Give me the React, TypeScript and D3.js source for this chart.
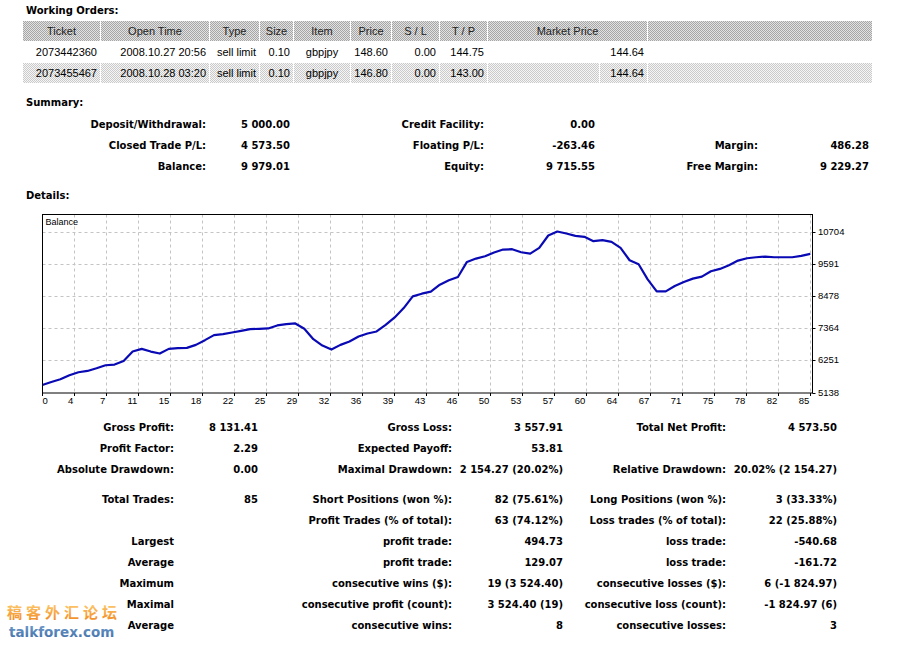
import React from "react";
import * as d3 from "d3";

// ---------- data ----------
const orderHeaders = ["Ticket", "Open Time", "Type", "Size", "Item", "Price", "S / L", "T / P", "Market Price", ""];
const orderTickets = ["2073442360", "2073455467"];
const orderOpenTimes = ["2008.10.27 20:56", "2008.10.28 03:20"];
const orderTypes = ["sell limit", "sell limit"];
const orderSizes = ["0.10", "0.10"];
const orderItems = ["gbpjpy", "gbpjpy"];
const orderPrices = ["148.60", "146.80"];
const orderSL = ["0.00", "0.00"];
const orderTP = ["144.75", "143.00"];
const orderMarket = ["144.64", "144.64"];

const summaryLabels = [
  ["Deposit/Withdrawal:", "Credit Facility:", ""],
  ["Closed Trade P/L:", "Floating P/L:", "Margin:"],
  ["Balance:", "Equity:", "Free Margin:"],
];
const summaryValues = [
  ["5 000.00", "0.00", ""],
  ["4 573.50", "-263.46", "486.28"],
  ["9 979.01", "9 715.55", "9 229.27"],
];

const balance = [
  5399, 5503, 5596, 5735, 5840, 5886, 5979, 6083, 6106, 6234,
  6558, 6651, 6558, 6489, 6651, 6674, 6686, 6790, 6953, 7127,
  7162, 7219, 7277, 7335, 7347, 7359, 7463, 7509, 7533, 7347,
  6988, 6767, 6628, 6790, 6906, 7080, 7185, 7254, 7486, 7741,
  8066, 8472, 8565, 8634, 8878, 9028, 9144, 9666, 9782, 9863,
  9991, 10095, 10107, 10002, 9956, 10153, 10582, 10721, 10652, 10571,
  10536, 10385, 10420, 10362, 10153, 9724, 9585, 9063, 8646, 8646,
  8831, 8970, 9086, 9156, 9342, 9423, 9550, 9713, 9794, 9829,
  9852, 9829, 9829, 9829, 9875, 9945,
];
const xTickLabels = [0, 4, 7, 11, 15, 18, 22, 25, 29, 32, 36, 39, 43, 46, 50, 53, 57, 60, 64, 67, 71, 75, 78, 82, 85];
const yTickLabels = [5138, 6251, 7364, 8478, 9591, 10704];

const statLabelsA = ["Gross Profit:", "Profit Factor:", "Absolute Drawdown:", "Total Trades:", "", "Largest", "Average", "Maximum", "Maximal", "Average"];
const statValuesB = ["8 131.41", "2.29", "0.00", "85", "", "", "", "", "", ""];
const statLabelsC = ["Gross Loss:", "Expected Payoff:", "Maximal Drawdown:", "Short Positions (won %):", "Profit Trades (% of total):", "profit trade:", "profit trade:", "consecutive wins ($):", "consecutive profit (count):", "consecutive wins:"];
const statValuesD = ["3 557.91", "53.81", "2 154.27 (20.02%)", "82 (75.61%)", "63 (74.12%)", "494.73", "129.07", "19 (3 524.40)", "3 524.40 (19)", "8"];
const statLabelsE = ["Total Net Profit:", "", "Relative Drawdown:", "Long Positions (won %):", "Loss trades (% of total):", "loss trade:", "loss trade:", "consecutive losses ($):", "consecutive loss (count):", "consecutive losses:"];
const statValuesF = ["4 573.50", "", "20.02% (2 154.27)", "3 (33.33%)", "22 (25.88%)", "-540.68", "-161.72", "6 (-1 824.97)", "-1 824.97 (6)", "3"];

// ---------- layout ----------
const W = 898;
const H = 646;
const BOLD = { fontFamily: "'DejaVu Sans', Verdana, sans-serif", fontSize: 10, fontWeight: 700 as const, fill: "#000" };
const NORM = { fontFamily: "'Liberation Sans', Arial, sans-serif", fontSize: 11, fill: "#000" };
const SMALL = { fontFamily: "'Liberation Sans', Arial, sans-serif", fontSize: 9.5, fill: "#000" };

const headerEdges = [23, 101, 210, 260, 294, 351, 392, 440, 488, 648, 873];
const rowEdges = [23, 101, 210, 260, 294, 351, 392, 440, 488, 600, 648, 873];

export default function App() {
  const plotL = 42.5, plotR = 812.5, plotT = 214.5, plotB = 393;
  const x = d3.scaleLinear().domain([0, balance.length - 1]).range([42.3, 810.3]);
  const xg = d3.scaleLinear().domain([0, xTickLabels.length - 1]).range([42.3, 810.3]);
  const y = d3.scaleLinear().domain([yTickLabels[0], yTickLabels[yTickLabels.length - 1]]).range([392.5, 232]);
  const line = d3.line<number>().x((_, i) => x(i)).y((d) => y(d));

  const rows = orderTickets.map((_, i) => [
    orderTickets[i], orderOpenTimes[i], orderTypes[i], orderSizes[i], orderItems[i],
    orderPrices[i], orderSL[i], orderTP[i], "", orderMarket[i], "",
  ]);

  const statBase = [431, 452, 473, 503, 524, 545, 566, 587, 608, 629];

  return (
    <div style={{ position: "absolute", left: 0, top: 0, width: W, height: H, background: "#fff" }}>
      <svg width={W} height={H} style={{ display: "block" }}>
        <defs>
          <pattern id="hdr" width="2" height="2" patternUnits="userSpaceOnUse">
            <rect width="2" height="2" fill="#e2e2e2" />
            <rect x="0" y="0" width="1" height="1" fill="#a6a6a6" />
            <rect x="1" y="1" width="1" height="1" fill="#a6a6a6" />
          </pattern>
          <pattern id="alt" width="2" height="2" patternUnits="userSpaceOnUse">
            <rect width="2" height="2" fill="#f6f6f6" />
            <rect x="0" y="0" width="1" height="1" fill="#cacaca" />
            <rect x="1" y="1" width="1" height="1" fill="#cacaca" />
          </pattern>
          <linearGradient id="wmOrange" x1="0" y1="0" x2="0" y2="1">
            <stop offset="0" stopColor="#ffd47a" />
            <stop offset="1" stopColor="#f0861e" />
          </linearGradient>
          <linearGradient id="wmBlue" x1="0" y1="0" x2="0" y2="1">
            <stop offset="0" stopColor="#6f9ccc" />
            <stop offset="1" stopColor="#3f6ea6" />
          </linearGradient>
        </defs>
        <rect width={W} height={H} fill="#fff" />

        {/* Working orders */}
        <text x={26} y={14} {...BOLD}>Working Orders:</text>
        {orderHeaders.map((h, i) => {
          const x0 = headerEdges[i], x1 = headerEdges[i + 1] - 1;
          return (
            <g key={"h" + i}>
              <rect x={x0} y={21} width={x1 - x0} height={20} fill="url(#hdr)" />
              <text x={(x0 + x1) / 2} y={35} textAnchor="middle" {...NORM} fill="#222">{h}</text>
            </g>
          );
        })}
        {rows.map((r, ri) => {
          const yTop = 41 + ri * 22;
          const base = 56 + ri * 21;
          return (
            <g key={"r" + ri}>
              {r.map((c, ci) => {
                const x0 = rowEdges[ci], x1 = rowEdges[ci + 1] - 1;
                const centered = ci === 4;
                return (
                  <g key={ci}>
                    {ri % 2 === 1 && <rect x={x0} y={yTop} width={x1 - x0} height={20} fill="url(#alt)" />}
                    <text x={centered ? (x0 + x1) / 2 : x1 - 3} y={base} textAnchor={centered ? "middle" : "end"} {...NORM}>{c}</text>
                  </g>
                );
              })}
            </g>
          );
        })}

        {/* Summary */}
        <text x={26} y={106} {...BOLD}>Summary:</text>
        {summaryLabels.map((row, ri) => {
          const base = 128 + ri * 21;
          const lx = [206, 484, 758];
          const vx = [290, 595, 869];
          return (
            <g key={"s" + ri}>
              {row.map((l, ci) => (
                <g key={ci}>
                  <text x={lx[ci]} y={base} textAnchor="end" {...BOLD}>{l}</text>
                  <text x={vx[ci]} y={base} textAnchor="end" {...BOLD}>{summaryValues[ri][ci]}</text>
                </g>
              ))}
            </g>
          );
        })}

        {/* Details chart */}
        <text x={26} y={199} {...BOLD}>Details:</text>
        <rect x={plotL} y={plotT} width={plotR - plotL} height={plotB - plotT} fill="#fff" />
        {xTickLabels.map((_, k) => {
          const gx = Math.round(xg(k)) + 0.5;
          return (
            <g key={"xg" + k}>
              {k > 0 && <line x1={gx} x2={gx} y1={plotT} y2={plotB} stroke="#c4c4c4" strokeDasharray="3,3" />}
              <line x1={gx} x2={gx} y1={plotB} y2={plotB + 3} stroke="#000" />
            </g>
          );
        })}
        {yTickLabels.map((v, k) => {
          const gy = Math.round(y(v)) + 0.5;
          return (
            <g key={"yg" + k}>
              {k > 0 && <line x1={plotL} x2={plotR} y1={gy} y2={gy} stroke="#c4c4c4" strokeDasharray="3,3" />}
              <line x1={plotR} x2={plotR + 3} y1={gy} y2={gy} stroke="#000" />
              <text x={818} y={y(v) + 3} {...SMALL}>{v}</text>
            </g>
          );
        })}
        <path d={line(balance) || ""} fill="none" stroke="#0a0ab4" strokeWidth={2.2} strokeLinejoin="round" />
        <rect x={plotL} y={plotT} width={plotR - plotL} height={plotB - plotT} fill="none" stroke="#000" />
        <text x={45.5} y={225} {...SMALL} fontSize={9}>Balance</text>
        {xTickLabels.map((l, k) => (
          <text key={"xl" + k} x={k === 0 ? 42.5 : xg(k) - 1} y={404} textAnchor={k === 0 ? "start" : "end"} {...SMALL}>{l}</text>
        ))}

        {/* Statistics */}
        {statBase.map((b, i) => (
          <g key={"st" + i}>
            <text x={174} y={b} textAnchor="end" {...BOLD}>{statLabelsA[i]}</text>
            <text x={258} y={b} textAnchor="end" {...BOLD}>{statValuesB[i]}</text>
            <text x={452} y={b} textAnchor="end" {...BOLD}>{statLabelsC[i]}</text>
            <text x={563} y={b} textAnchor="end" {...BOLD}>{statValuesD[i]}</text>
            <text x={726} y={b} textAnchor="end" {...BOLD}>{statLabelsE[i]}</text>
            <text x={837} y={b} textAnchor="end" {...BOLD}>{statValuesF[i]}</text>
          </g>
        ))}

        {/* Watermark */}
        <text x={7} y={618} fontFamily="'Noto Sans CJK SC', sans-serif" fontWeight={700} fontSize={15} letterSpacing={4} fill="url(#wmOrange)">稿客外汇论坛</text>
        <text x={9} y={637} fontFamily="'DejaVu Sans', sans-serif" fontWeight={700} fontSize={13.5} fill="url(#wmBlue)">talkforex.com</text>
      </svg>
    </div>
  );
}
